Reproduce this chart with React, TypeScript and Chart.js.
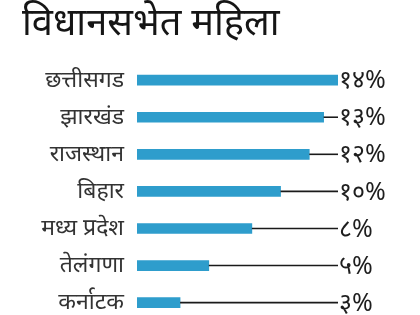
import React, { useEffect, useRef } from "react";
import { Chart, registerables } from "chart.js";

Chart.register(...registerables);

const titleText = "विधानसभेत महिला";
const categories = ["छत्तीसगड", "झारखंड", "राजस्थान", "बिहार", "मध्य प्रदेश", "तेलंगणा", "कर्नाटक"];
const values = [14, 13, 12, 10, 8, 5, 3];
const valueLabels = ["१४%", "१३%", "१२%", "१०%", "८%", "५%", "३%"];
const axisMax = 14;

const leaderPlugin = {
  id: "leaders",
  afterDatasetsDraw(chart: any) {
    const ctx = chart.ctx;
    const meta = chart.getDatasetMeta(0);
    const xScale = chart.scales.x;
    const endX = xScale.getPixelForValue(axisMax);
    ctx.save();
    meta.data.forEach((bar: any, i: number) => {
      const y = bar.y;
      if (bar.x < endX - 1) {
        ctx.strokeStyle = "#1a1a1a";
        ctx.lineWidth = 1.6;
        ctx.beginPath();
        ctx.moveTo(bar.x, y);
        ctx.lineTo(endX, y);
        ctx.stroke();
      }
      ctx.fillStyle = "#1e1e1e";
      ctx.font = "25px 'Noto Sans', sans-serif";
      ctx.textAlign = "left";
      ctx.textBaseline = "middle";
      ctx.fillText(valueLabels[i], endX + 1, y + 1);
    });
    ctx.restore();
  },
};

export default function App() {
  const ref = useRef<HTMLCanvasElement | null>(null);
  useEffect(() => {
    if (!ref.current) return;
    const chart = new Chart(ref.current, {
      type: "bar",
      data: {
        labels: categories,
        datasets: [
          {
            data: values,
            backgroundColor: "#2e9dcc",
            barThickness: 10,
            borderWidth: 0,
          },
        ],
      },
      options: {
        indexAxis: "y",
        animation: false,
        responsive: false,
        devicePixelRatio: 1,
        layout: { padding: { left: 22, right: 82, top: 0, bottom: 0 } },
        plugins: {
          legend: { display: false },
          tooltip: { enabled: false },
          title: {
            display: true,
            text: titleText,
            align: "start",
            color: "#151515",
            font: { size: 38, weight: "normal", family: "'Noto Sans', sans-serif" },
            padding: { top: 1, bottom: 15 },
          },
        },
        scales: {
          x: { display: false, min: 0, max: axisMax },
          y: {
            grid: { display: false },
            border: { display: false },
            ticks: {
              color: "#333333",
              padding: 5,
              font: { size: 23, family: "'Noto Sans', sans-serif" },
            },
            afterFit(scale: any) {
              scale.width = 115;
            },
          },
        },
      },
      plugins: [leaderPlugin],
    });
    return () => chart.destroy();
  }, []);
  return (
    <div style={{ position: "absolute", left: 0, top: 0, width: 420, height: 340, background: "#fff" }}>
      <canvas ref={ref} width={420} height={340} style={{ display: "block" }} />
    </div>
  );
}
